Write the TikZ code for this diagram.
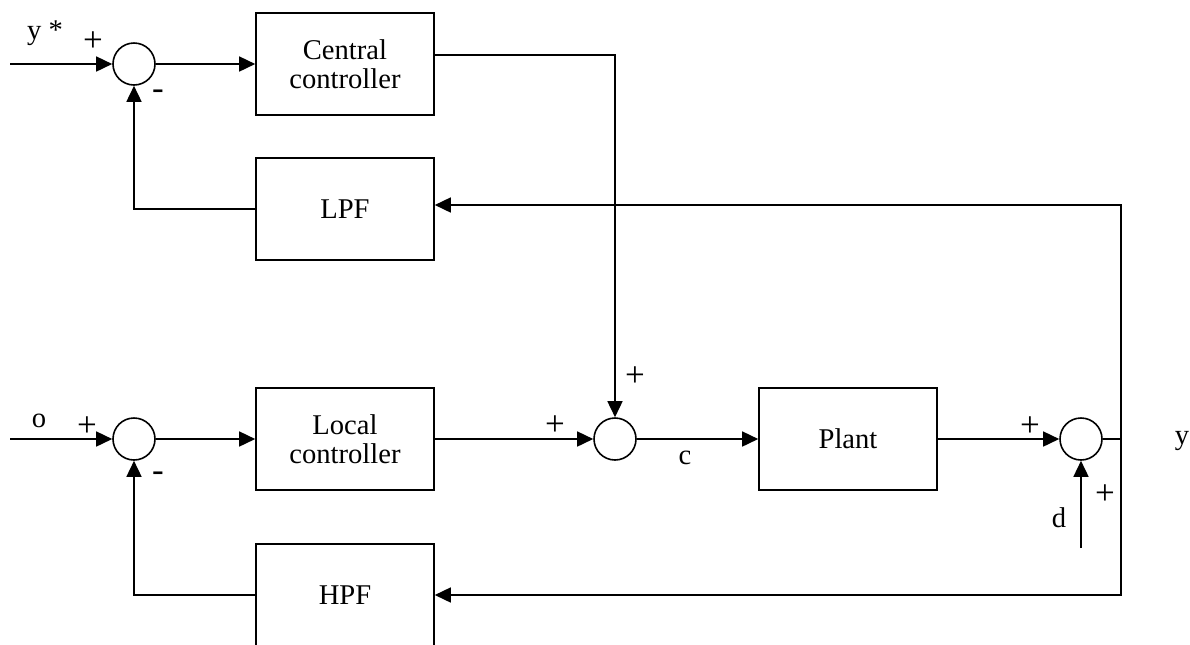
\documentclass[tikz,border=0pt]{standalone}
\usepackage{fontspec}
\setmainfont{Liberation Serif}
\usetikzlibrary{arrows.meta,calc}
\begin{document}
\begin{tikzpicture}[x=0.5pt,y=-0.5pt,line width=0.8pt,
  font=\fontsize{14.3}{14.5}\selectfont,
  blk/.style={draw,minimum width=89pt,minimum height=51pt,inner sep=0pt,align=center},
  sumjn/.style={draw,circle,minimum size=21pt,inner sep=0pt},
  sig/.style={-{Triangle[length=8pt,width=7.5pt]}},
  lbl/.style={inner sep=0pt},
  sgn/.style={inner sep=0pt,font=\fontsize{17.5}{18}\selectfont}]
\clip (0,0) rectangle (1190,644);

% upper (central) loop
\node[sumjn] (s1) at (134,64) {};
\node[blk] (central) at (345,64) {Central\\controller};
\node[blk] (lpf) at (345,209) {LPF};
\coordinate (ystar) at (10,64);

% lower (local) loop
\node[sumjn] (s2) at (134,439) {};
\node[blk] (local) at (345,439) {Local\\controller};
\node[blk] (hpf) at (345,595) {HPF};
\coordinate (oin) at (10,439);

% plant path
\node[sumjn] (s3) at (615,439) {};
\node[blk] (plant) at (848,439) {Plant};
\node[sumjn] (s4) at (1081,439) {};
\coordinate (jn) at (1121,439);
\coordinate (din) at (1081,548);

% signal labels
\node[lbl] (lys) at (45,33) {y *};
\node[sgn] (lp1) at (93,42) {+};
\node[sgn] (lm1) at (158,95) {-};
\node[lbl] (lo) at (39,421) {o};
\node[sgn] (lp2) at (87,427) {+};
\node[sgn] (lm2) at (158,477) {-};
\node[sgn] (lp3) at (555,426) {+};
\node[sgn] (lp4) at (635,377) {+};
\node[lbl] (lc) at (685,458) {c};
\node[sgn] (lp5) at (1030,427) {+};
\node[lbl] (ld) at (1059,518) {d};
\node[sgn] (lp6) at (1105,495) {+};
\node[lbl] (ly) at (1182,441) {y};

% connectors
\draw[sig] (ystar) -- (s1.west);
\draw[sig] (s1.east) -- (central.west);
\draw[sig] ([yshift=4.5pt]central.east) -| (s3.north);
\draw[sig] (lpf.west) -| (s1.south);

\draw[sig] (oin) -- (s2.west);
\draw[sig] (s2.east) -- (local.west);
\draw[sig] (local.east) -- (s3.west);
\draw[sig] (hpf.west) -| (s2.south);

\draw[sig] (s3.east) -- (plant.west);
\draw[sig] (plant.east) -- (s4.west);
\draw[sig] (din) -- (s4.south);
\draw (s4.east) -- (jn);
\draw[sig] (jn) |- ([yshift=2pt]lpf.east);
\draw[sig] (jn) |- (hpf.east);
\end{tikzpicture}
\end{document}
